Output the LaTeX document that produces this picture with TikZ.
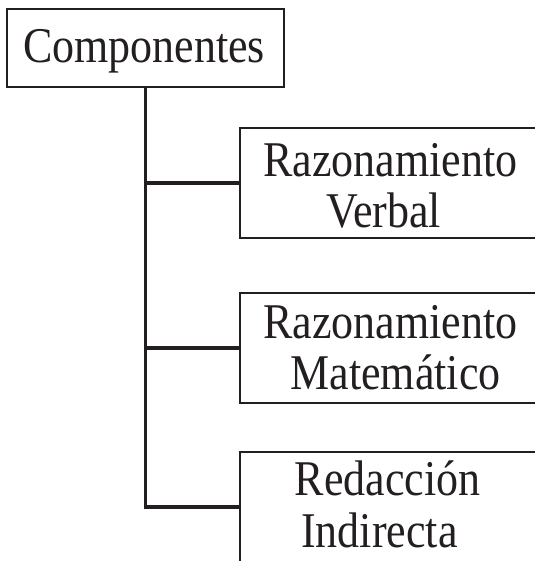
\documentclass[tikz,border=0pt]{standalone}
\usepackage{fontspec}
\setmainfont[FakeStretch=0.88]{Liberation Serif}
\definecolor{ink}{HTML}{231F20}
\begin{document}
\begin{tikzpicture}[x=1bp,y=-1bp,
  box/.style={draw=ink,line width=2.2bp,rectangle,inner sep=0pt},
  conn/.style={draw=ink,line width=3.2bp},
  txt/.style={anchor=base,inner sep=0pt,text=ink,font=\fontsize{50bp}{50bp}\selectfont}]
\useasboundingbox (0,0) rectangle (535,561);
\clip (0,0) rectangle (535,561);
\node[box,minimum width=277bp,minimum height=78bp] (root) at (145.5,48) {};
\node[box,minimum width=300bp,minimum height=110bp] (verb) at (390,183) {};
\node[box,minimum width=300bp,minimum height=110bp] (mat) at (390,348) {};
\node[box,minimum width=300bp,minimum height=110bp] (red) at (390,507) {};
\node[txt] (t0) at (144,63) {Componentes};
\node[txt] (t1) at (390.5,177) {Razonamiento};
\node[txt] (t2) at (383.5,227) {Verbal};
\node[txt] (t3) at (390.5,338) {Razonamiento};
\node[txt] (t4) at (395.5,389) {Matemático};
\node[txt] (t5) at (387.5,495) {Redacción};
\node[txt] (t6) at (379.5,547) {Indirecta};
\draw[conn] (root.south) -- (root.south |- red.west) -- (red.west);
\draw[conn] (root.south |- verb.west) -- (verb.west);
\draw[conn] (root.south |- mat.west) -- (mat.west);
\end{tikzpicture}
\end{document}
